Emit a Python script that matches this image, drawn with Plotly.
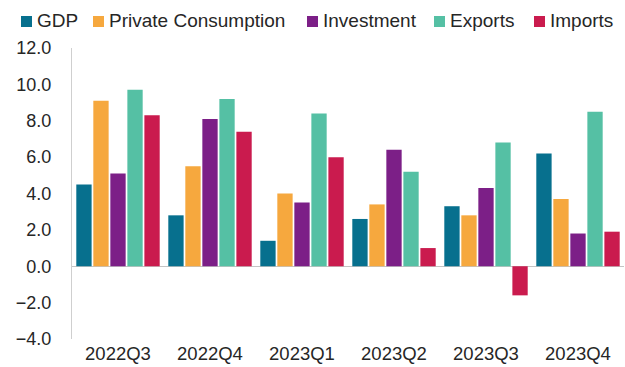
import plotly.graph_objects as go

quarters = ["2022Q3", "2022Q4", "2023Q1", "2023Q2", "2023Q3", "2023Q4"]
gdp = [4.5, 2.8, 1.4, 2.6, 3.3, 6.2]
private_consumption = [9.1, 5.5, 4.0, 3.4, 2.8, 3.7]
investment = [5.1, 8.1, 3.5, 6.4, 4.3, 1.8]
exports = [9.7, 9.2, 8.4, 5.2, 6.8, 8.5]
imports = [8.3, 7.4, 6.0, 1.0, -1.6, 1.9]
y_ticks = [-4, -2, 0, 2, 4, 6, 8, 10, 12]

series_names = ["GDP", "Private Consumption", "Investment", "Exports", "Imports"]
series_values = [gdp, private_consumption, investment, exports, imports]
series_colors = ["#07708e", "#f6a83e", "#7c1f87", "#55c0a4", "#ca1b4e"]

# figure geometry (pixels)
W, H = 625, 367
ML, MR, MT, MB = 72, 1, 48, 28
PW, PH = W - ML - MR, H - MT - MB


def px_x(px):
    return (px - ML) / PW


def px_y(py):
    return 1 + (MT - py) / PH


FAMILY = "Liberation Sans, Arial, sans-serif"
TEXT = "#262626"

fig = go.Figure()
for name, vals, color in zip(series_names, series_values, series_colors):
    fig.add_trace(go.Bar(
        name=name, x=quarters, y=vals,
        marker=dict(color=color, line=dict(width=0)),
        showlegend=False,
    ))

# legend row across the top: colour key square followed by its label
legend_text_x = [37, 109, 323, 450, 550]
legend_mid_y = 21
shapes = []
annotations = []
for name, color, tx in zip(series_names, series_colors, legend_text_x):
    shapes.append(dict(
        type="rect", xref="paper", yref="paper",
        x0=px_x(tx - 16), x1=px_x(tx - 5),
        y0=px_y(legend_mid_y + 6), y1=px_y(legend_mid_y - 5),
        fillcolor=color, line=dict(width=0),
    ))
    annotations.append(dict(
        text=name, xref="paper", yref="paper",
        x=px_x(tx - 2), y=px_y(legend_mid_y),
        xanchor="left", yanchor="middle", showarrow=False,
        font=dict(family=FAMILY, size=19, color=TEXT),
    ))

fig.update_layout(
    width=W, height=H,
    margin=dict(l=ML, r=MR, t=MT, b=MB, autoexpand=False),
    paper_bgcolor="white", plot_bgcolor="white",
    barmode="group", bargap=0.075, bargroupgap=0.1,
    font=dict(family=FAMILY, size=18, color=TEXT),
    showlegend=False,
    shapes=shapes,
    annotations=annotations,
    xaxis=dict(
        showline=False, showgrid=False, ticks="", automargin=False,
        tickfont=dict(family=FAMILY, size=18.5, color=TEXT),
        ticklabelstandoff=1,
    ),
    yaxis=dict(
        range=[-4, 12], tickvals=y_ticks, tickformat=".1f", automargin=False,
        showgrid=False, showline=True, linecolor="#cfcfcf", linewidth=1,
        zeroline=True, zerolinecolor="#c4c4c4", zerolinewidth=1,
        ticks="", tickfont=dict(family=FAMILY, size=18, color=TEXT),
        ticklabelstandoff=16,
    ),
)

fig.write_html("out.html")
